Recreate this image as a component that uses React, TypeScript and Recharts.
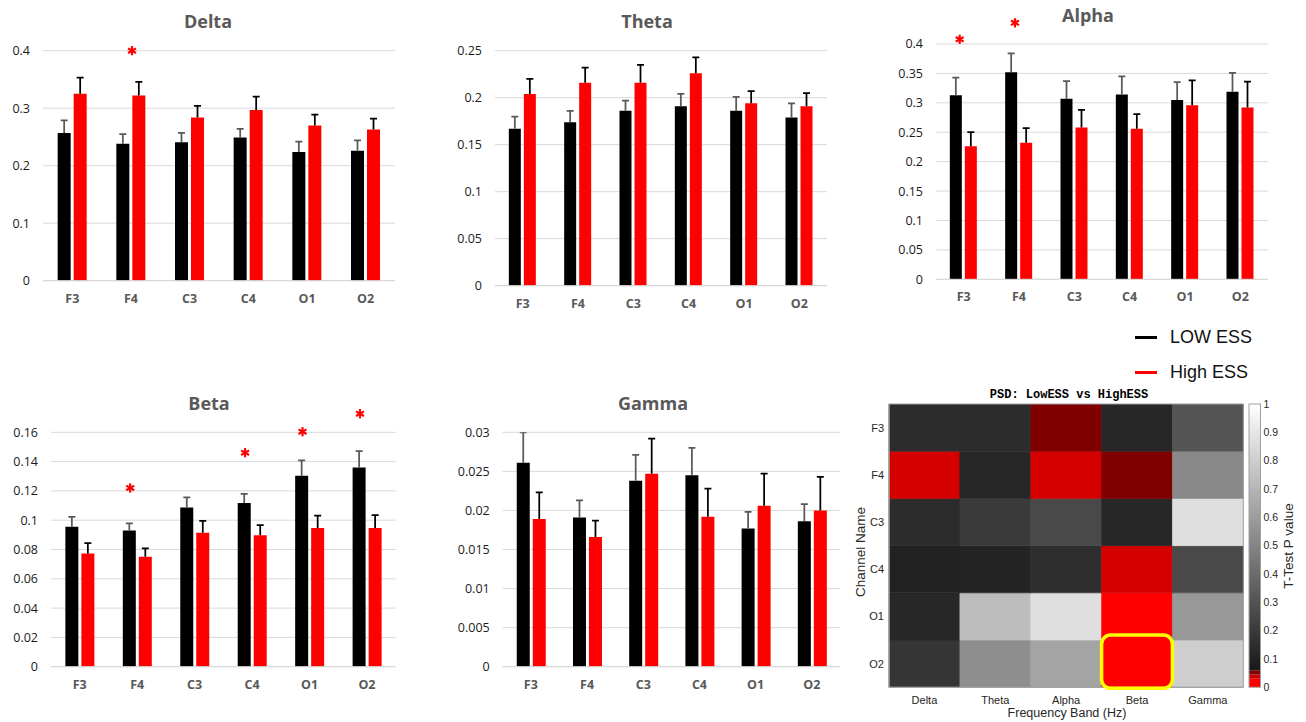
import React from 'react';
import { BarChart, Bar, XAxis, YAxis, CartesianGrid, ReferenceDot, ReferenceArea, Cell } from 'recharts';

// ---------- shared categories ----------
const channels = ['F3', 'F4', 'C3', 'C4', 'O1', 'O2'];
const bands = ['Delta', 'Theta', 'Alpha', 'Beta', 'Gamma'];

// ---------- Delta ----------
const deltaLow = [0.257, 0.238, 0.241, 0.249, 0.224, 0.226];
const deltaLowErr = [0.022, 0.017, 0.016, 0.015, 0.018, 0.018];
const deltaHigh = [0.325, 0.322, 0.284, 0.297, 0.270, 0.263];
const deltaHighErr = [0.028, 0.024, 0.020, 0.023, 0.019, 0.019];
const deltaTicks = [0, 0.1, 0.2, 0.3, 0.4];
const deltaStars = [null, 0.4, null, null, null, null];

// ---------- Theta ----------
const thetaLow = [0.167, 0.174, 0.186, 0.191, 0.186, 0.179];
const thetaLowErr = [0.013, 0.012, 0.011, 0.013, 0.015, 0.015];
const thetaHigh = [0.204, 0.216, 0.216, 0.226, 0.194, 0.191];
const thetaHighErr = [0.016, 0.016, 0.019, 0.017, 0.013, 0.014];
const thetaTicks = [0, 0.05, 0.1, 0.15, 0.2, 0.25];
const thetaStars = [null, null, null, null, null, null];

// ---------- Alpha ----------
const alphaLow = [0.313, 0.352, 0.307, 0.314, 0.305, 0.319];
const alphaLowErr = [0.030, 0.032, 0.030, 0.031, 0.030, 0.032];
const alphaHigh = [0.226, 0.232, 0.258, 0.256, 0.296, 0.292];
const alphaHighErr = [0.024, 0.025, 0.030, 0.025, 0.042, 0.044];
const alphaTicks = [0, 0.05, 0.1, 0.15, 0.2, 0.25, 0.3, 0.35, 0.4];
const alphaStars = [0.408, 0.436, null, null, null, null];

// ---------- Beta ----------
const betaLow = [0.0956, 0.0929, 0.1086, 0.1117, 0.1304, 0.1359];
const betaLowErr = [0.0066, 0.0050, 0.0070, 0.0062, 0.0105, 0.0113];
const betaHigh = [0.0772, 0.0751, 0.0915, 0.0897, 0.0947, 0.0947];
const betaHighErr = [0.0072, 0.0057, 0.0080, 0.0070, 0.0084, 0.0088];
const betaTicks = [0, 0.02, 0.04, 0.06, 0.08, 0.1, 0.12, 0.14, 0.16];
const betaStars = [null, 0.122, null, 0.1461, 0.1604, 0.1727];

// ---------- Gamma ----------
const gammaLow = [0.0261, 0.0191, 0.0238, 0.0245, 0.0177, 0.0186];
const gammaLowErr = [0.0039, 0.0022, 0.0033, 0.0035, 0.0021, 0.0022];
const gammaHigh = [0.0189, 0.0166, 0.0247, 0.0192, 0.0206, 0.0200];
const gammaHighErr = [0.0034, 0.0021, 0.0045, 0.0036, 0.0041, 0.0043];
const gammaTicks = [0, 0.005, 0.01, 0.015, 0.02, 0.025, 0.03];
const gammaStars = [null, null, null, null, null, null];

// ---------- Heatmap p-values [channel][band] ----------
const pF3 = [0.14, 0.14, 0.05, 0.12, 0.31];
const pF4 = [0.04, 0.12, 0.04, 0.05, 0.52];
const pC3 = [0.14, 0.20, 0.26, 0.12, 0.87];
const pC4 = [0.10, 0.11, 0.15, 0.04, 0.26];
const pO1 = [0.12, 0.73, 0.87, 0.01, 0.58];
const pO2 = [0.18, 0.54, 0.63, 0.005, 0.80];
const pvals: Record<string, number[]> = { F3: pF3, F4: pF4, C3: pC3, C4: pC4, O1: pO1, O2: pO2 };
const highlightCell = { channel: 'O2', band: 'Beta' };

// colorbar segments (p-value extents) and colours
const cbSegments = [0.03, 0.015, 0.015, 0.94];
const cbColors = ['#ff0000', '#c80000', '#800000', 'url(#cbGrad)'];
const cbTicks = [0, 0.1, 0.2, 0.3, 0.4, 0.5, 0.6, 0.7, 0.8, 0.9, 1];

const legendItems = [
  { label: 'LOW ESS', color: '#000000' },
  { label: 'High ESS', color: '#ff0000' },
];

function pColor(p: number): string {
  if (p < 0.03) return '#ff0000';
  if (p < 0.045) return '#d40000';
  if (p < 0.06) return '#800000';
  const g = Math.round(24 + ((p - 0.06) / 0.94) * 231);
  const h = g.toString(16).padStart(2, '0');
  return '#' + h + h + h;
}

const LOW_ERR_COLOR = '#595959';
const HIGH_ERR_COLOR = '#000000';

const makeErrShape = (color: string) => (props: any) => {
  const { x, y, width, height } = props;
  if (x == null || y == null) return <g />;
  const cx = x + width / 2;
  return (
    <g>
      <line x1={cx} x2={cx} y1={y + height} y2={y} stroke={color} strokeWidth={1.75} />
      <line x1={cx - 3.5} x2={cx + 3.5} y1={y} y2={y} stroke={color} strokeWidth={1.75} />
    </g>
  );
};

const makeStar = (dx: number) => (props: any) => {
  const { cx, cy } = props;
  if (cx == null || cy == null) return <g />;
  const r = 4.6;
  const x = cx + dx;
  const lines = [90, 30, 150].map((a) => {
    const rad = (a * Math.PI) / 180;
    return (
      <line
        key={a}
        x1={x - r * Math.cos(rad)}
        y1={cy - r * Math.sin(rad)}
        x2={x + r * Math.cos(rad)}
        y2={cy + r * Math.sin(rad)}
        stroke="#ff0000"
        strokeWidth={2.2}
      />
    );
  });
  return <g>{lines}</g>;
};

type Frame = { left: number; top: number; w: number; h: number; x0: number; x1: number; y0: number; y1: number };

function BandChart(props: {
  title: string;
  low: number[];
  lowErr: number[];
  high: number[];
  highErr: number[];
  ticks: number[];
  stars: (number | null)[];
  frame: Frame;
  title_c: [number, number];
  starDx: number;
}) {
  const { title, low, lowErr, high, highErr, ticks, stars, frame, title_c, starDx } = props;
  const data = channels.map((c, i) => ({ ch: c, low: low[i], lowErr: lowErr[i], high: high[i], highErr: highErr[i] }));
  const f = frame;
  const margin = { top: f.y0 - f.top, left: 0, right: f.left + f.w - f.x1, bottom: 0 };
  const yMax = ticks[ticks.length - 1];
  const starShape = makeStar(starDx);
  return (
    <>
      <div
        style={{
          position: 'absolute',
          left: title_c[0] - 100,
          top: title_c[1] - 13,
          width: 200,
          height: 26,
          lineHeight: '26px',
          textAlign: 'center',
          fontFamily: '"Open Sans", sans-serif',
          fontWeight: 700,
          fontSize: 18,
          color: '#595959',
        }}
      >
        {title}
      </div>
      <div style={{ position: 'absolute', left: f.left, top: f.top }}>
        <BarChart width={f.w} height={f.h} data={data} margin={margin} barCategoryGap="25%" barGap={3}>
          <CartesianGrid vertical={false} stroke="#d9d9d9" strokeWidth={1} />
          <XAxis
            dataKey="ch"
            height={f.top + f.h - f.y1}
            axisLine={{ stroke: '#d9d9d9', strokeWidth: 1 }}
            tickLine={false}
            tickSize={0}
            tickMargin={13}
            interval={0}
            tick={{ fontSize: 12.5, fontWeight: 700, fill: '#595959', fontFamily: '"Open Sans", sans-serif' }}
          />
          <YAxis
            width={f.x0 - f.left}
            domain={[0, yMax]}
            ticks={ticks}
            allowDataOverflow
            interval={0}
            axisLine={false}
            tickLine={false}
            tickSize={0}
            tickMargin={13}
            tick={{ fontSize: 12.5, fill: '#1a1a1a', fontFamily: '"Open Sans", sans-serif' }}
          />
          <Bar dataKey="low" stackId="low" fill="#000000" isAnimationActive={false} />
          <Bar dataKey="lowErr" stackId="low" fill="none" shape={makeErrShape(LOW_ERR_COLOR)} isAnimationActive={false} />
          <Bar dataKey="high" stackId="high" fill="#ff0000" isAnimationActive={false} />
          <Bar dataKey="highErr" stackId="high" fill="none" shape={makeErrShape(HIGH_ERR_COLOR)} isAnimationActive={false} />
          {stars.map((s, i) =>
            s == null ? null : (
              <ReferenceDot key={i} x={channels[i]} y={s} r={5} ifOverflow="visible" shape={starShape} />
            )
          )}
        </BarChart>
      </div>
    </>
  );
}

function Heatmap() {
  const f: Frame = { left: 860, top: 380, w: 400, h: 342, x0: 889, x1: 1243.3, y0: 404, y1: 687.3 };
  const stackOrder = [...channels].reverse(); // bottom row first
  const data = bands.map((b) => {
    const row: any = { band: b };
    channels.forEach((c) => (row[c] = 1));
    return row;
  });
  const hlRow = 5 - channels.indexOf(highlightCell.channel);
  const font = '"Liberation Sans", Arial, sans-serif';
  return (
    <>
      <div
        style={{
          position: 'absolute',
          left: 1069 - 150,
          top: 388,
          width: 300,
          textAlign: 'center',
          fontFamily: '"Liberation Mono", "DejaVu Sans Mono", monospace',
          fontWeight: 700,
          fontSize: 12,
          lineHeight: '14px',
          color: '#000',
        }}
      >
        PSD: LowESS vs HighESS
      </div>
      <div style={{ position: 'absolute', left: f.left, top: f.top }}>
        <BarChart
          width={f.w}
          height={f.h}
          data={data}
          margin={{ top: f.y0 - f.top, left: 0, right: f.left + f.w - f.x1, bottom: 0 }}
          barCategoryGap={0}
          barGap={0}
        >
          <XAxis
            dataKey="band"
            height={f.top + f.h - f.y1}
            axisLine={{ stroke: '#a0a0a0' }}
            tickLine={false}
            tickSize={0}
            tickMargin={9}
            interval={0}
            tick={{ fontSize: 11, fill: '#262626', fontFamily: font }}
          />
          <YAxis
            width={f.x0 - f.left}
            domain={[0, 6]}
            ticks={[5.5, 4.5, 3.5, 2.5, 1.5, 0.5]}
            tickFormatter={(v: number) => channels[5 - Math.floor(v)]}
            allowDataOverflow
            interval={0}
            axisLine={{ stroke: '#a0a0a0' }}
            tickLine={false}
            tickSize={0}
            tickMargin={5}
            tick={{ fontSize: 11, fill: '#262626', fontFamily: font }}
          />
          {stackOrder.map((ch) => (
            <Bar key={ch} dataKey={ch} stackId="h" isAnimationActive={false}>
              {bands.map((b, bi) => {
                const c = pColor(pvals[ch][bi]);
                return <Cell key={b} fill={c} stroke={c} strokeWidth={0.6} />;
              })}
            </Bar>
          ))}
          <ReferenceArea
            x1="Delta"
            x2="Gamma"
            y1={0}
            y2={6}
            ifOverflow="visible"
            zIndex={1500}
            shape={(p: any) => (
              <rect x={p.x} y={p.y} width={p.width} height={p.height} fill="none" stroke="#a0a0a0" strokeWidth={1} />
            )}
          />
          <ReferenceArea
            x1={highlightCell.band}
            x2={highlightCell.band}
            y1={hlRow}
            y2={hlRow + 1}
            ifOverflow="visible"
            zIndex={2000}
            shape={(p: any) => (
              <rect
                x={p.x}
                y={p.y - 5}
                width={p.width}
                height={p.height + 6}
                rx={9}
                ry={9}
                fill="none"
                stroke="#ffff00"
                strokeWidth={3.5}
              />
            )}
          />
        </BarChart>
      </div>
      <div
        style={{
          position: 'absolute',
          left: 1067 - 150,
          top: 706,
          width: 300,
          textAlign: 'center',
          fontFamily: font,
          fontSize: 12.5,
          lineHeight: '15px',
          color: '#262626',
        }}
      >
        Frequency Band (Hz)
      </div>
      <div
        style={{
          position: 'absolute',
          left: 861,
          top: 552,
          transform: 'translate(-50%, -50%) rotate(-90deg)',
          whiteSpace: 'nowrap',
          fontFamily: font,
          fontSize: 13.5,
          lineHeight: '16px',
          color: '#262626',
        }}
      >
        Channel Name
      </div>
    </>
  );
}

function ColorBar() {
  const f: Frame = { left: 1240, top: 380, w: 66, h: 342, x0: 1249, x1: 1260.5, y0: 404, y1: 687.3 };
  const row: any = { k: 'cb' };
  cbSegments.forEach((s, i) => (row['s' + i] = s));
  const data = [row];
  const font = '"Liberation Sans", Arial, sans-serif';
  return (
    <>
      <div style={{ position: 'absolute', left: f.left, top: f.top }}>
        <BarChart
          width={f.w}
          height={f.h}
          data={data}
          margin={{ top: f.y0 - f.top, left: f.x0 - f.left, right: 0, bottom: f.top + f.h - f.y1 }}
          barCategoryGap={0}
          barGap={0}
        >
          <defs>
            <linearGradient id="cbGrad" x1="0" y1="1" x2="0" y2="0">
              <stop offset="0" stopColor="#181818" />
              <stop offset="1" stopColor="#ffffff" />
            </linearGradient>
          </defs>
          <XAxis dataKey="k" hide />
          <YAxis
            orientation="right"
            width={f.left + f.w - f.x1}
            domain={[0, 1]}
            ticks={cbTicks}
            allowDataOverflow
            interval={0}
            axisLine={false}
            tickLine={false}
            tickSize={0}
            tickMargin={3}
            tick={{ fontSize: 10.5, fill: '#262626', fontFamily: font }}
          />
          {cbSegments.map((s, i) => (
            <Bar key={i} dataKey={'s' + i} stackId="cb" fill={cbColors[i]} isAnimationActive={false} />
          ))}
          <ReferenceArea
            x1="cb"
            x2="cb"
            y1={0}
            y2={1}
            ifOverflow="visible"
            zIndex={2000}
            shape={(p: any) => (
              <rect x={p.x} y={p.y} width={p.width} height={p.height} fill="none" stroke="#a0a0a0" strokeWidth={1} />
            )}
          />
        </BarChart>
      </div>
      <div
        style={{
          position: 'absolute',
          left: 1289,
          top: 546,
          transform: 'translate(-50%, -50%) rotate(-90deg)',
          whiteSpace: 'nowrap',
          fontFamily: font,
          fontSize: 13.5,
          lineHeight: '16px',
          color: '#262626',
        }}
      >
        T-Test P value
      </div>
    </>
  );
}

function LegendBox() {
  return (
    <>
      {legendItems.map((it, i) => (
        <React.Fragment key={it.label}>
          <div
            style={{ position: 'absolute', left: 1135, top: 335.5 + i * 35, width: 22, height: 3, background: it.color }}
          />
          <div
            style={{
              position: 'absolute',
              left: 1170,
              top: 326 + i * 35,
              height: 22,
              lineHeight: '22px',
              fontFamily: '"Liberation Sans", Arial, sans-serif',
              fontSize: 18,
              color: '#111',
              whiteSpace: 'nowrap',
            }}
          >
            {it.label}
          </div>
        </React.Fragment>
      ))}
    </>
  );
}

export default function App() {
  return (
    <div style={{ position: 'absolute', left: 0, top: 0, width: 1306, height: 722, background: '#fff', overflow: 'hidden' }}>
      <BandChart
        title="Delta"
        low={deltaLow}
        lowErr={deltaLowErr}
        high={deltaHigh}
        highErr={deltaHighErr}
        ticks={deltaTicks}
        stars={deltaStars}
        frame={{ left: 0, top: 0, w: 430, h: 322, x0: 43, x1: 395, y0: 50.7, y1: 280.7 }}
        title_c={[208, 21]}
        starDx={1}
      />
      <BandChart
        title="Theta"
        low={thetaLow}
        lowErr={thetaLowErr}
        high={thetaHigh}
        highErr={thetaHighErr}
        ticks={thetaTicks}
        stars={thetaStars}
        frame={{ left: 430, top: 0, w: 430, h: 322, x0: 495, x1: 827, y0: 50.7, y1: 285.7 }}
        title_c={[647, 21]}
        starDx={0}
      />
      <BandChart
        title="Alpha"
        low={alphaLow}
        lowErr={alphaLowErr}
        high={alphaHigh}
        highErr={alphaHighErr}
        ticks={alphaTicks}
        stars={alphaStars}
        frame={{ left: 860, top: 0, w: 446, h: 318, x0: 936, x1: 1268, y0: 44, y1: 279.3 }}
        title_c={[1088, 14.5]}
        starDx={-4}
      />
      <BandChart
        title="Beta"
        low={betaLow}
        lowErr={betaLowErr}
        high={betaHigh}
        highErr={betaHighErr}
        ticks={betaTicks}
        stars={betaStars}
        frame={{ left: 0, top: 380, w: 430, h: 342, x0: 51, x1: 395.7, y0: 432.3, y1: 666.7 }}
        title_c={[209, 402.7]}
        starDx={-7}
      />
      <BandChart
        title="Gamma"
        low={gammaLow}
        lowErr={gammaLowErr}
        high={gammaHigh}
        highErr={gammaHighErr}
        ticks={gammaTicks}
        stars={gammaStars}
        frame={{ left: 430, top: 380, w: 430, h: 342, x0: 502.7, x1: 840, y0: 432.3, y1: 666.7 }}
        title_c={[653, 402.7]}
        starDx={0}
      />
      <LegendBox />
      <Heatmap />
      <ColorBar />
    </div>
  );
}
